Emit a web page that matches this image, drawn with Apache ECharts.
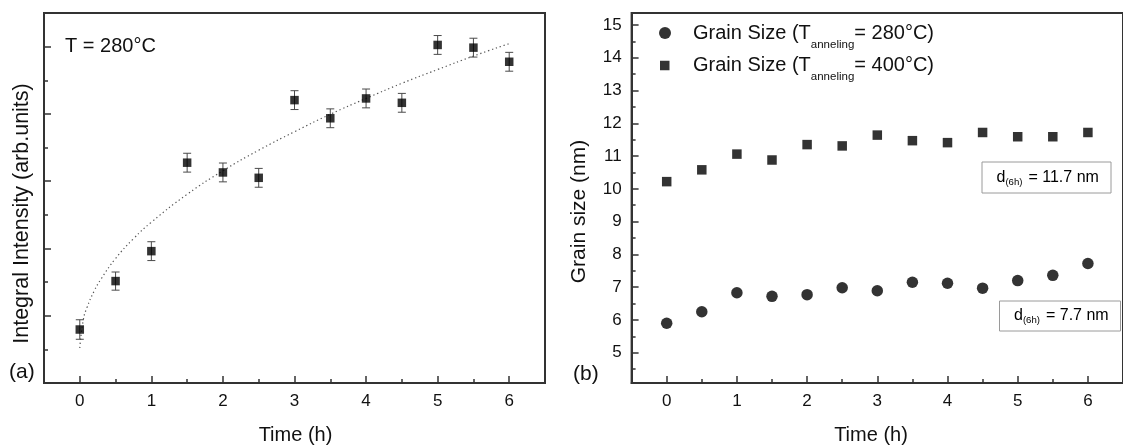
<!DOCTYPE html>
<html>
<head>
<meta charset="utf-8">
<script src="https://cdn.jsdelivr.net/npm/echarts@6/dist/echarts.min.js"></script>
<style>
  html, body { margin: 0; padding: 0; background: #fff; }
  #chart { width: 1123px; height: 445px; }
</style>
</head>
<body>
<div id="chart"></div>
<script>
// Panel (a): integral intensity vs annealing time, T = 280 °C
const timeA = [0, 0.5, 1, 1.5, 2, 2.5, 3, 3.5, 4, 4.5, 5, 5.5, 6];
const intensity = [1.59, 3.03, 3.92, 6.55, 6.26, 6.10, 8.41, 7.87, 8.46, 8.33, 10.05, 9.97, 9.55];
const intensityErr = [0.29, 0.27, 0.28, 0.28, 0.28, 0.28, 0.28, 0.28, 0.28, 0.28, 0.28, 0.28, 0.28];

// Dotted fit curve through the intensity data
const fitTime = [0, 0.05, 0.1, 0.2, 0.3, 0.5, 0.75, 1, 1.5, 2, 2.5, 3, 3.5, 4, 4.5, 5, 5.5, 6];
const fitIntensity = [1.04, 1.89, 2.24, 2.73, 3.10, 3.70, 4.29, 4.78, 5.61, 6.31, 6.92, 7.47, 7.99, 8.46, 8.91, 9.32, 9.72, 10.09];

// Panel (b): grain size vs annealing time
const timeB = [0, 0.5, 1, 1.5, 2, 2.5, 3, 3.5, 4, 4.5, 5, 5.5, 6];
const grain280 = [5.90, 6.25, 6.83, 6.72, 6.77, 6.98, 6.89, 7.15, 7.12, 6.97, 7.20, 7.36, 7.72];
const grain400 = [10.22, 10.58, 11.06, 10.88, 11.35, 11.31, 11.64, 11.47, 11.41, 11.72, 11.59, 11.59, 11.72];

const name280 = 'Grain Size (Tanneling= 280°C)';
const name400 = 'Grain Size (Tanneling= 400°C)';

// Tick positions
const hourTicks = [0, 1, 2, 3, 4, 5, 6];
const hourMinorTicks = [0.5, 1.5, 2.5, 3.5, 4.5, 5.5];
const intensityTicks = [0, 2, 4, 6, 8, 10];
const intensityMinorTicks = [1, 3, 5, 7, 9];
const grainTicks = [5, 6, 7, 8, 9, 10, 11, 12, 13, 14, 15];
const grainMinorTicks = [4.5, 5.5, 6.5, 7.5, 8.5, 9.5, 10.5, 11.5, 12.5, 13.5, 14.5];

const FONT = '"Liberation Sans", Arial, Helvetica, sans-serif';
const INK = '#111';
const AXIS = '#333';

function majorAxis(extra) {
  return Object.assign({
    type: 'value',
    axisLine: { show: true, onZero: false, lineStyle: { color: AXIS, width: 2 } },
    axisTick: { show: true, inside: true, length: 7, lineStyle: { color: AXIS, width: 1.5 } },
    axisLabel: { show: false },
    splitLine: { show: false }
  }, extra);
}
function minorAxis(extra, ticks) {
  return Object.assign({
    type: 'value',
    axisLine: { show: false, onZero: false },
    axisTick: { show: true, inside: true, length: 4, customValues: ticks, lineStyle: { color: AXIS, width: 1.5 } },
    axisLabel: { show: false },
    splitLine: { show: false }
  }, extra);
}

const tickLabel = (values) => ({ show: true, customValues: values, fontSize: 17, color: INK, fontFamily: FONT, margin: 10 });

const chart = echarts.init(document.getElementById('chart'), null, { renderer: 'canvas' });

const legendRich = {
  p: { fontSize: 20, fontFamily: FONT, color: INK, lineHeight: 35, padding: [0, 0, 0, 17] },
  m: { fontSize: 20, fontFamily: FONT, color: INK, lineHeight: 35 },
  s: { fontSize: 11.5, fontFamily: FONT, color: INK, lineHeight: 1, verticalAlign: 'bottom' }
};
const legendFormatter = (name) => {
  const t = name.indexOf('= ');
  return '{p|Grain Size (T}{s|anneling}{m|' + name.slice(t) + '}';
};

function boxText(x, y, w, h, value) {
  return {
    type: 'group',
    children: [
      { type: 'rect', shape: { x: x, y: y, width: w, height: h },
        style: { fill: '#fff', stroke: '#9a9a9a', lineWidth: 1 } },
      { type: 'text', x: x + 14.5, y: y + h / 2,
        style: {
          text: '{m|d}{s|(6h)}{e|= ' + value + ' nm}',
          verticalAlign: 'middle', align: 'left',
          rich: {
            m: { fontSize: 16, fontFamily: FONT, color: INK, lineHeight: 19 },
            e: { fontSize: 16, fontFamily: FONT, color: INK, lineHeight: 19, padding: [0, 0, 0, 6] },
            s: { fontSize: 9.6, fontFamily: FONT, color: INK, lineHeight: 1, verticalAlign: 'bottom' }
          }
        } }
    ]
  };
}

const option = {
  animation: false,
  backgroundColor: '#fff',
  grid: [
    { left: 44, top: 13, width: 501, height: 370, show: true, borderColor: AXIS, borderWidth: 2, backgroundColor: 'transparent' },
    { left: 631.6, top: 13, width: 500.5, height: 370, show: true, borderColor: AXIS, borderWidth: 2, backgroundColor: 'transparent' }
  ],
  xAxis: [
    majorAxis({ gridIndex: 0, min: -0.5, max: 6.5, position: 'bottom',
      axisTick: { show: true, inside: true, length: 7, customValues: hourTicks, lineStyle: { color: AXIS, width: 1.5 } },
      axisLabel: tickLabel(hourTicks) }),
    minorAxis({ gridIndex: 0, min: -0.5, max: 6.5, position: 'bottom' }, hourMinorTicks),
    majorAxis({ gridIndex: 1, min: -0.5, max: 6.5, position: 'bottom',
      axisTick: { show: true, inside: true, length: 7, customValues: hourTicks, lineStyle: { color: AXIS, width: 1.5 } },
      axisLabel: tickLabel(hourTicks) }),
    minorAxis({ gridIndex: 1, min: -0.5, max: 6.5, position: 'bottom' }, hourMinorTicks)
  ],
  yAxis: [
    majorAxis({ gridIndex: 0, min: 0, max: 11, position: 'left',
      axisTick: { show: true, inside: true, length: 7, customValues: intensityTicks, lineStyle: { color: AXIS, width: 1.5 } } }),
    minorAxis({ gridIndex: 0, min: 0, max: 11, position: 'left' }, intensityMinorTicks),
    majorAxis({ gridIndex: 1, min: 4.075, max: 15.366, position: 'left',
      axisTick: { show: true, inside: true, length: 7, customValues: grainTicks, lineStyle: { color: AXIS, width: 1.5 } },
      axisLabel: tickLabel(grainTicks) }),
    minorAxis({ gridIndex: 1, min: 4.075, max: 15.366, position: 'left' }, grainMinorTicks)
  ],
  legend: [
    { data: [{ name: name280, icon: 'circle' }], left: 659, top: 23, padding: 0,
      itemWidth: 12, itemHeight: 12, orient: 'vertical', selectedMode: false,
      formatter: legendFormatter, textStyle: { rich: legendRich } },
    { data: [{ name: name400, icon: 'rect' }], left: 660, top: 55.5, padding: 0,
      itemWidth: 9.5, itemHeight: 9.5, orient: 'vertical', selectedMode: false,
      formatter: legendFormatter,
      textStyle: { rich: Object.assign({}, legendRich, { p: Object.assign({}, legendRich.p, { padding: [0, 0, 0, 18.5] }) }) } }
  ],
  series: [
    {
      name: 'fit', type: 'line', xAxisIndex: 0, yAxisIndex: 0, smooth: true,
      showSymbol: false, symbol: 'none', silent: true, z: 1,
      lineStyle: { color: '#555', width: 1.2, type: [1.3, 2.8] },
      data: fitTime.map((t, i) => [t, fitIntensity[i]])
    },
    {
      name: 'error', type: 'custom', xAxisIndex: 0, yAxisIndex: 0, z: 2, silent: true,
      encode: { x: 0, y: [1, 2] },
      data: timeA.map((t, i) => [t, intensity[i] - intensityErr[i], intensity[i] + intensityErr[i]]),
      renderItem: function (params, api) {
        const x = api.value(0);
        const lo = api.coord([x, api.value(1)]);
        const hi = api.coord([x, api.value(2)]);
        const w = 4;
        const st = { stroke: '#4a4a4a', lineWidth: 1 };
        return {
          type: 'group',
          children: [
            { type: 'line', shape: { x1: hi[0], y1: hi[1], x2: lo[0], y2: lo[1] }, style: st },
            { type: 'line', shape: { x1: hi[0] - w, y1: hi[1], x2: hi[0] + w, y2: hi[1] }, style: st },
            { type: 'line', shape: { x1: lo[0] - w, y1: lo[1], x2: lo[0] + w, y2: lo[1] }, style: st }
          ]
        };
      }
    },
    {
      name: 'intensity', type: 'scatter', xAxisIndex: 0, yAxisIndex: 0, z: 3,
      symbol: 'rect', symbolSize: 8.5, itemStyle: { color: '#000' },
      data: timeA.map((t, i) => [t, intensity[i]])
    },
    {
      name: name280, type: 'scatter', xAxisIndex: 2, yAxisIndex: 2, z: 3,
      symbol: 'circle', symbolSize: 11.5, itemStyle: { color: '#000' },
      data: timeB.map((t, i) => [t, grain280[i]])
    },
    {
      name: name400, type: 'scatter', xAxisIndex: 2, yAxisIndex: 2, z: 3,
      symbol: 'rect', symbolSize: 9.5, itemStyle: { color: '#000' },
      data: timeB.map((t, i) => [t, grain400[i]])
    }
  ],
  graphic: [
    { type: 'text', x: 65, y: 46, style: { text: 'T = 280°C', fontSize: 20, fontFamily: FONT, fill: INK, verticalAlign: 'middle' } },
    { type: 'text', x: 9, y: 372, style: { text: '(a)', fontSize: 21, fontFamily: FONT, fill: INK, verticalAlign: 'middle' } },
    { type: 'text', x: 573, y: 374, style: { text: '(b)', fontSize: 21, fontFamily: FONT, fill: INK, verticalAlign: 'middle' } },
    { type: 'text', x: 22.5, y: 213.5, rotation: Math.PI / 2,
      style: { text: 'Integral Intensity (arb.units)', fontSize: 21.5, fontFamily: FONT, fill: INK, align: 'center', verticalAlign: 'middle' } },
    { type: 'text', x: 579, y: 211.5, rotation: Math.PI / 2,
      style: { text: 'Grain size (nm)', fontSize: 21, fontFamily: FONT, fill: INK, align: 'center', verticalAlign: 'middle' } },
    { type: 'text', x: 295.5, y: 435, style: { text: 'Time (h)', fontSize: 20, fontFamily: FONT, fill: INK, align: 'center', verticalAlign: 'middle' } },
    { type: 'text', x: 871, y: 435, style: { text: 'Time (h)', fontSize: 20, fontFamily: FONT, fill: INK, align: 'center', verticalAlign: 'middle' } },
    boxText(982, 162, 129, 31, '11.7'),
    boxText(999.5, 301, 121, 30, '7.7')
  ]
};

chart.setOption(option);
</script>
</body>
</html>
